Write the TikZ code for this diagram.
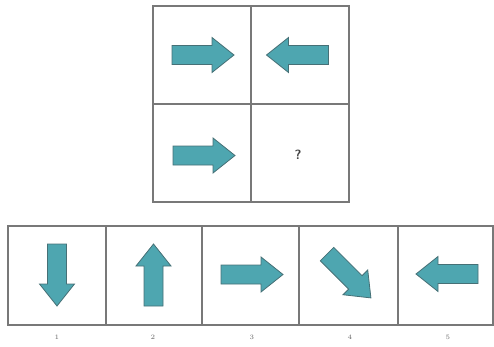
\documentclass[tikz,border=0pt]{standalone}
\usepackage{tikz}

\definecolor{arrowteal}{RGB}{78,166,176}
\definecolor{arrowedge}{RGB}{70,112,118}
\definecolor{gridgray}{RGB}{120,120,120}

\begin{document}
\begin{tikzpicture}[x=0.75pt,y=-0.75pt,line cap=round,
  gridline/.style={line width=1pt,draw=gridgray},
  arrowfill/.style={fill=arrowteal,draw=arrowedge,line width=0.6pt,line join=miter},
  pics/blkarrow/.style={code={
    \draw[arrowfill] (-31,-9.5) -- (9,-9.5) -- (9,-17.5) -- (31,0) -- (9,17.5) -- (9,9.5) -- (-31,9.5) -- cycle;}},
  numlabel/.style={font=\tiny,text=black!60}]
\path[use as bounding box] (0,0) rectangle (494,347);
% question grid
\draw[gridline] (153,6) rectangle (349,202);
\draw[gridline] (251,6) -- (251,202);
\draw[gridline] (153,104) -- (349,104);
\pic at (203,55) {blkarrow};
\pic[rotate=180] at (297.5,55) {blkarrow};
\pic at (204,155.5) {blkarrow};
\node[font=\sffamily\bfseries,text=black!75] (q) at (298,155) {?};
% answer strip
\draw[gridline] (8,226) rectangle (493,325);
\draw[gridline] (106,226) -- (106,325);
\draw[gridline] (202,226) -- (202,325);
\draw[gridline] (299,226) -- (299,325);
\draw[gridline] (398,226) -- (398,325);
\pic[rotate=-90] at (57,275) {blkarrow};
\pic[rotate=90] at (153.5,275) {blkarrow};
\pic at (252,274.5) {blkarrow};
\pic[rotate=-45] at (349,276) {blkarrow};
\pic[rotate=180] at (447,274) {blkarrow};
\node[numlabel] (lab1) at (57,337) {1};
\node[numlabel] (lab2) at (153,337) {2};
\node[numlabel] (lab3) at (252,337) {3};
\node[numlabel] (lab4) at (350,337) {4};
\node[numlabel] (lab5) at (448,337) {5};
\end{tikzpicture}
\end{document}
